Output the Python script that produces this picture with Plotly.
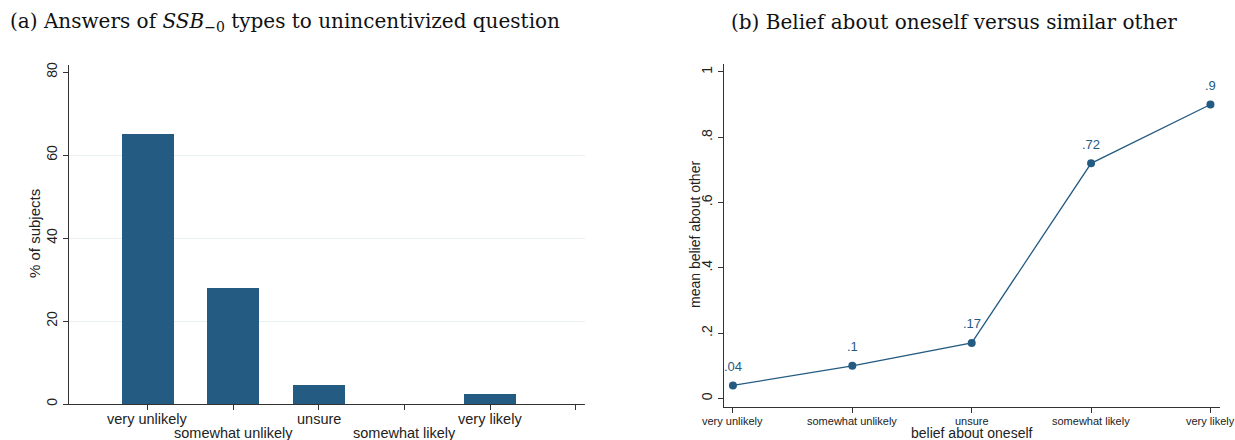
import plotly.graph_objects as go

# Panel (a): distribution of answers
answer_labels = ["very unlikely", "somewhat unlikely", "unsure", "somewhat likely", "very likely"]
answer_pos = [1, 2, 3, 4, 5]
pct_subjects = [65.1, 28.0, 4.7, 0.0, 2.3]
a_tickvals = [1, 2, 3, 4, 5, 6]
a_yticks = [0, 20, 40, 60, 80]

# Panel (b): mean belief about a similar other by own belief
belief_labels = ["very unlikely", "somewhat unlikely", "unsure", "somewhat likely", "very likely"]
belief_pos = [1, 2, 3, 4, 5]
mean_other = [0.04, 0.10, 0.17, 0.72, 0.90]
b_yticks = [0, 0.2, 0.4, 0.6, 0.8, 1.0]
b_yticktext = ["0", ".2", ".4", ".6", ".8", "1"]

BLUE = "#245b82"
AX = "#333333"
TXT = "#222222"
SANS = "Liberation Sans, Arial, sans-serif"
SERIF = "DejaVu Serif, Liberation Serif, serif"

W, H = 1235, 440


def px_x(x0, x1):
    return [x0 / W, x1 / W]


def px_y(top, bottom):
    return [(H - bottom) / H, (H - top) / H]


def py(y):
    return (H - y) / H


fig = go.Figure()

fig.add_trace(go.Bar(
    x=answer_pos, y=pct_subjects, width=0.61,
    marker=dict(color=BLUE, line=dict(width=0)),
    xaxis="x", yaxis="y", showlegend=False,
))

fig.add_trace(go.Scatter(
    x=belief_pos, y=mean_other, mode="lines+markers",
    line=dict(color=BLUE, width=1.3),
    marker=dict(color=BLUE, size=8),
    xaxis="x2", yaxis="y2", showlegend=False,
))

fig.add_trace(go.Scatter(x=[None], y=[None], xaxis="x", yaxis="y3",
                         showlegend=False, hoverinfo="skip"))


def fmt(v):
    s = f"{v:g}"
    return s[1:] if s.startswith("0.") else s


annotations = []
# value labels above the points of panel (b)
for xp, v in zip(belief_pos, mean_other):
    annotations.append(dict(
        x=xp, y=v, xref="x2", yref="y2", text=fmt(v), showarrow=False,
        yshift=19, font=dict(family=SANS, size=13, color=BLUE),
    ))

# staggered category labels of panel (a)
for i, (xp, lab) in enumerate(zip(answer_pos, answer_labels)):
    annotations.append(dict(
        x=xp, y=py(418.5 if i % 2 == 0 else 433), xref="x", yref="paper",
        xanchor="center", yanchor="middle", text=lab, showarrow=False,
        font=dict(family=SANS, size=14.5, color=TXT),
    ))

# category labels of panel (b)
for xp, lab in zip(belief_pos, belief_labels):
    annotations.append(dict(
        x=xp, y=py(421), xref="x2", yref="paper",
        xanchor="center", yanchor="middle", text=lab, showarrow=False,
        font=dict(family=SANS, size=11, color=TXT),
    ))

# axis titles
annotations += [
    dict(x=35 / W, y=py(234), xref="paper", yref="paper", text="% of subjects",
         textangle=-90, showarrow=False, xanchor="center", yanchor="middle",
         font=dict(family=SANS, size=15, color=TXT)),
    dict(x=695 / W, y=py(235), xref="paper", yref="paper", text="mean belief about other",
         textangle=-90, showarrow=False, xanchor="center", yanchor="middle",
         font=dict(family=SANS, size=14, color=TXT)),
    dict(x=972 / W, y=py(432.5), xref="paper", yref="paper", text="belief about oneself",
         showarrow=False, xanchor="center", yanchor="middle",
         font=dict(family=SANS, size=14, color=TXT)),
]

# panel headings
annotations += [
    dict(x=8 / W, y=py(22), xref="paper", yref="paper", xanchor="left", yanchor="middle",
         text="(a) Answers of <i>SSB</i><sub>−0</sub> types to unincentivized question",
         showarrow=False, font=dict(family=SERIF, size=20, color="#111111")),
    dict(x=954 / W, y=py(22), xref="paper", yref="paper", xanchor="center", yanchor="middle",
         text="(b) Belief about oneself versus similar other",
         showarrow=False, font=dict(family=SERIF, size=20, color="#111111")),
]

axis_common = dict(showline=True, linecolor=AX, linewidth=1, ticks="outside",
                   ticklen=5, tickcolor=AX, zeroline=False, showgrid=False,
                   automargin=False)

a_xdom = px_x(69, 585)
a_ydom = px_y(65, 404)
b_xdom = px_x(724, 1220)
b_ydom = px_y(64, 407)

fig.update_layout(
    width=W, height=H, margin=dict(l=0, r=0, t=0, b=0),
    paper_bgcolor="white", plot_bgcolor="white",
    bargap=0,
    xaxis=dict(domain=a_xdom, range=[0.08, 6.11], tickmode="array",
               tickvals=a_tickvals, showticklabels=False, anchor="y", **axis_common),
    yaxis=dict(domain=a_ydom, range=[0, 81.7], tickmode="array", tickvals=a_yticks,
               tickangle=-90, anchor="x",
               tickfont=dict(family=SANS, size=14, color=TXT), **axis_common),
    # light horizontal grid for panel (a), interior values only
    yaxis3=dict(domain=a_ydom, range=[0, 81.7], overlaying="y", anchor="x",
                tickmode="array", tickvals=[20, 40, 60], showticklabels=False,
                showgrid=True, gridcolor="#e8f0f2", gridwidth=1, zeroline=False,
                showline=False, automargin=False),
    xaxis2=dict(domain=b_xdom, range=[0.925, 5.08], tickmode="array",
                tickvals=belief_pos, showticklabels=False, anchor="y2", **axis_common),
    yaxis2=dict(domain=b_ydom, range=[-0.026, 1.024], tickmode="array",
                tickvals=b_yticks, ticktext=b_yticktext, tickangle=-90, anchor="x2",
                tickfont=dict(family=SANS, size=14, color=TXT), **axis_common),
    annotations=annotations,
)

fig.write_html("out.html")
